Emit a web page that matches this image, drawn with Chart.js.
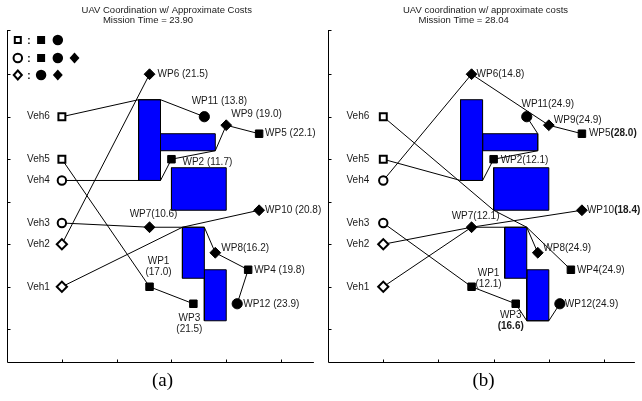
<!DOCTYPE html>
<html>
<head>
<meta charset="utf-8">
<script src="https://cdn.jsdelivr.net/npm/chart.js@4.4.1/dist/chart.umd.min.js"></script>
<style>
  body { margin: 0; background: #fff; }
  #wrap { position: relative; width: 642px; height: 401px; }
  canvas { position: absolute; top: 0; }
</style>
</head>
<body>
<div id="wrap">
  <canvas id="chartA" width="321" height="401" style="left:0"></canvas>
  <canvas id="chartB" width="321" height="401" style="left:321px"></canvas>
</div>
<script>
// tick positions (no tick labels in the original)
const xTicks = [1, 2, 3, 4, 5];
const yTicks = [1, 2, 3, 4, 5, 6, 7];

// vehicles
const vehNames = ['Veh1', 'Veh2', 'Veh3', 'Veh4', 'Veh5', 'Veh6'];
const vehX = [1, 1, 1, 1, 1, 1];
const vehY = [2, 3, 3.5, 4.5, 5, 6];
const vehShape = ['diamond', 'diamond', 'circle', 'circle', 'square', 'square'];

// waypoints WP1..WP12
const wpX = [2.6, 3.0, 3.4, 4.4, 4.6, 2.6, 2.6, 3.8, 4.0, 4.6, 3.6, 4.2];
const wpY = [2.0, 5.0, 1.6, 2.4, 5.6, 7.0, 3.4, 2.8, 5.8, 3.8, 6.0, 1.6];
const wpShape = ['square', 'square', 'square', 'square', 'square',
  'diamond', 'diamond', 'diamond', 'diamond', 'diamond', 'circle', 'circle'];

// obstacles O1..O5
const obsLeft = [2.4, 2.8, 3.0, 3.2, 3.6];
const obsRight = [2.8, 3.8, 4.0, 3.6, 4.0];
const obsBottom = [4.5, 5.2, 3.8, 2.2, 1.2];
const obsTop = [6.4, 5.6, 4.8, 3.4, 2.4];

// waypoint labels (\n = new line, *...* = bold)
const labelsA = ['WP1\n(17.0)', 'WP2 (11.7)', 'WP3\n(21.5)', 'WP4 (19.8)', 'WP5 (22.1)', 'WP6 (21.5)',
  'WP7(10.6)', 'WP8(16.2)', 'WP9 (19.0)', 'WP10 (20.8)', 'WP11 (13.8)', 'WP12 (23.9)'];
const labelsB = ['WP1\n(12.1)', 'WP2(12.1)', 'WP3\n*(16.6)*', 'WP4(24.9)', 'WP5*(28.0)*', 'WP6(14.8)',
  'WP7(12.1)', 'WP8(24.9)', 'WP9(24.9)', 'WP10*(18.4)*', 'WP11(24.9)', 'WP12(24.9)'];

// routes: V = vehicle, W = waypoint, O<n><corner> = obstacle corner
const routesA = [
  ['V6', 'O1tl', 'O1tr', 'W11'],
  ['V5', 'W1', 'W3'],
  ['V4', 'O1br', 'W2', 'O2br', 'W9', 'W5'],
  ['V3', 'W7', 'O4tl', 'O4tr', 'W8', 'W4', 'W12'],
  ['V2', 'W6'],
  ['V1', 'O4tl', 'W10']
];
const routesB = [
  ['V6', 'O3bl', 'O4tr', 'W4'],
  ['V5', 'O1bl', 'O1br', 'W2', 'O2br', 'O2tr', 'W11'],
  ['V4', 'W6', 'W9', 'W5'],
  ['V3', 'W1', 'W3', 'O5bl', 'O5br', 'W12'],
  ['V2', 'W7', 'W10'],
  ['V1', 'W7', 'O4tr', 'W8']
];

const titleA = ['UAV Coordination w/ Approximate Costs', 'Mission Time = 23.90'];
const titleB = ['UAV coordination w/ approximate costs', 'Mission Time = 28.04'];

// ---- layout / style ----
const FONT = '"Liberation Sans", Arial, sans-serif';
const pointStyleOf = { square: 'rect', circle: 'circle', diamond: 'rectRot' };
const wpRadius = { square: 5.3, circle: 5.1, diamond: 5.4 };
const vehRadius = { square: 4.9, circle: 4.2, diamond: 5.1 };

// label offsets in px from the marker: [dx, dy, align]
const placeA = [[9, -26, 'center'], [11, 3, 'left'], [-4, 14, 'center'], [6, 0, 'left'], [6, 0, 'left'],
  [8, 0, 'left'], [4, -13, 'center'], [6, -5, 'left'], [5, -11, 'left'], [6, 0, 'left'],
  [15, -15, 'center'], [6, 0, 'left']];
const placeB = [[17, -14, 'center'], [7, 1.5, 'left'], [-5, 11, 'center'], [6, 0, 'left'], [7, 0, 'left'],
  [5, 0, 'left'], [4, -11, 'center'], [5.5, -5, 'left'], [5, -5, 'left'], [5, 0, 'left'],
  [21, -12, 'center'], [5, 0, 'left']];

function pointOf(tok) {
  if (tok[0] === 'V') { const i = +tok.slice(1) - 1; return { x: vehX[i], y: vehY[i] }; }
  if (tok[0] === 'W') { const i = +tok.slice(1) - 1; return { x: wpX[i], y: wpY[i] }; }
  const i = +tok[1] - 1, c = tok.slice(2);
  return {
    x: c[1] === 'l' ? obsLeft[i] : obsRight[i],
    y: c[0] === 't' ? obsTop[i] : obsBottom[i]
  };
}

function drawRich(ctx, str, x, y, align, size) {
  const parts = str.split('*');
  const fonts = parts.map((p, k) => (k % 2 ? 'bold ' : '') + size + 'px ' + FONT);
  let w = 0;
  parts.forEach((p, k) => { ctx.font = fonts[k]; w += ctx.measureText(p).width; });
  let cx = align === 'center' ? x - w / 2 : align === 'right' ? x - w : x;
  ctx.textAlign = 'left';
  parts.forEach((p, k) => {
    ctx.font = fonts[k];
    ctx.fillText(p, cx, y);
    cx += ctx.measureText(p).width;
  });
}

function mark(ctx, shape, x, y, s, hollow) {
  ctx.beginPath();
  if (shape === 'square') ctx.rect(x - s / 2, y - s / 2, s, s);
  else if (shape === 'circle') ctx.arc(x, y, s / 2, 0, Math.PI * 2);
  else {
    ctx.moveTo(x, y - s / 2); ctx.lineTo(x + s * 0.45, y);
    ctx.lineTo(x, y + s / 2); ctx.lineTo(x - s * 0.45, y); ctx.closePath();
  }
  if (hollow) { ctx.fillStyle = '#fff'; ctx.fill(); ctx.lineWidth = 2; ctx.strokeStyle = '#000'; ctx.stroke(); }
  else { ctx.fillStyle = '#000'; ctx.fill(); }
}

const decor = {
  id: 'decor',
  beforeDatasetsDraw(chart, args, opts) {
    const { ctx, chartArea: a, scales: { x, y } } = chart;
    ctx.save();
    ctx.strokeStyle = '#000';
    ctx.lineWidth = 1;
    ctx.beginPath();
    const L = Math.round(a.left) + 0.5, B = Math.round(a.bottom) + 0.5;
    ctx.moveTo(L, a.top); ctx.lineTo(L, B); ctx.lineTo(a.right, B);
    xTicks.forEach(v => {
      const px = Math.round(x.getPixelForValue(v)) + 0.5;
      ctx.moveTo(px, B); ctx.lineTo(px, B - 3);
    });
    yTicks.concat([y.max]).forEach(v => {
      const py = Math.round(y.getPixelForValue(v)) + 0.5;
      ctx.moveTo(L, py); ctx.lineTo(L + 3, py);
    });
    ctx.stroke();
    ctx.restore();
  },
  afterDatasetsDraw(chart, args, opts) {
    const { ctx, chartArea: a, scales: { x, y } } = chart;
    ctx.save();
    ctx.fillStyle = '#1a1a1a';
    ctx.textBaseline = 'middle';
    // titles
    ctx.font = '9.5px ' + FONT;
    ctx.textAlign = 'center';
    ctx.fillText(opts.title[0], opts.titleX[0], 10);
    ctx.fillText(opts.title[1], opts.titleX[1], 20);
    // vehicle labels
    vehNames.forEach((n, i) => {
      drawRich(ctx, n, x.getPixelForValue(vehX[i]) + opts.vehDx, y.getPixelForValue(vehY[i]), 'right', 10);
    });
    // waypoint labels
    opts.labels.forEach((lab, i) => {
      const [dx, dy, al] = opts.place[i];
      const px = x.getPixelForValue(wpX[i]) + dx, py = y.getPixelForValue(wpY[i]) + dy;
      lab.split('\n').forEach((line, k) => drawRich(ctx, line, px, py + k * 11, al, 10));
    });
    // capability key (panel a only)
    if (opts.key) {
      const rows = [['square', ['square', 'circle']], ['circle', ['square', 'circle', 'diamond']], ['diamond', ['circle', 'diamond']]];
      const rowY = [10, 28, 45];
      const size = { square: 8, circle: 10.5, diamond: 11 };
      const hsize = { square: 6, circle: 8.5, diamond: 9 };
      rows.forEach((r, k) => {
        const yy = a.top + rowY[k];
        mark(ctx, r[0], a.left + 10.7, yy, hsize[r[0]], true);
        ctx.fillStyle = '#000';
        ctx.font = 'bold 10px ' + FONT;
        ctx.textAlign = 'center';
        ctx.fillText(':', a.left + 21.7, yy + 1.5);
        r[1].forEach((s, j) => mark(ctx, s, a.left + 34 + j * 16.7, yy, size[s], false));
      });
    }
    // caption
    ctx.fillStyle = '#000';
    ctx.font = '19px "Liberation Serif", "DejaVu Serif", serif';
    ctx.textAlign = 'center';
    ctx.fillText(opts.caption, opts.captionX, 381);
    ctx.restore();
  }
};

function buildChart(id, routes, cfg) {
  const datasets = [];
  // waypoints and vehicles on top
  datasets.push({
    type: 'scatter', order: 0,
    data: wpX.map((v, i) => ({ x: v, y: wpY[i] })),
    pointStyle: wpShape.map(s => pointStyleOf[s]),
    pointRadius: wpShape.map(s => wpRadius[s]),
    pointBackgroundColor: '#000', pointBorderColor: '#000', pointBorderWidth: 1
  });
  datasets.push({
    type: 'scatter', order: 0,
    data: vehX.map((v, i) => ({ x: v, y: vehY[i] })),
    pointStyle: vehShape.map(s => pointStyleOf[s]),
    pointRadius: vehShape.map(s => vehRadius[s]),
    pointBackgroundColor: '#fff', pointBorderColor: '#000', pointBorderWidth: 2
  });
  routes.forEach(r => datasets.push({
    type: 'line', order: 1,
    data: r.map(pointOf),
    borderColor: '#000', borderWidth: 1, pointRadius: 0, fill: false, tension: 0
  }));
  obsLeft.forEach((v, i) => datasets.push({
    type: 'line', order: 2,
    data: [pointOf('O' + (i + 1) + 'bl'), pointOf('O' + (i + 1) + 'br'), pointOf('O' + (i + 1) + 'tr'),
      pointOf('O' + (i + 1) + 'tl'), pointOf('O' + (i + 1) + 'bl')],
    borderColor: '#000', borderWidth: 1, backgroundColor: '#0000ff', pointRadius: 0, fill: 'shape', tension: 0
  }));

  return new Chart(document.getElementById(id).getContext('2d'), {
    type: 'scatter',
    data: { datasets },
    options: {
      responsive: false,
      animation: false,
      events: [],
      layout: { padding: { left: cfg.padLeft, right: cfg.padRight, top: 30, bottom: 39 } },
      scales: {
        x: { type: 'linear', min: 0, max: cfg.xMax, display: false },
        y: { type: 'linear', min: 0.23, max: 8.04, display: false }
      },
      plugins: {
        legend: { display: false },
        tooltip: { enabled: false },
        decor: cfg.decor
      }
    },
    plugins: [decor]
  });
}

buildChart('chartA', routesA, {
  padLeft: 6, padRight: 1, xMax: 5.6,
  decor: { title: titleA, titleX: [166.7, 148], labels: labelsA, place: placeA, vehDx: -12,
    key: true, caption: '(a)', captionX: 162.5 }
});
buildChart('chartB', routesB, {
  padLeft: 6.3, padRight: 0, xMax: 5.56,
  decor: { title: titleB, titleX: [164.5, 142.7], labels: labelsB, place: placeB, vehDx: -14,
    key: false, caption: '(b)', captionX: 162.5 }
});
</script>
</body>
</html>
